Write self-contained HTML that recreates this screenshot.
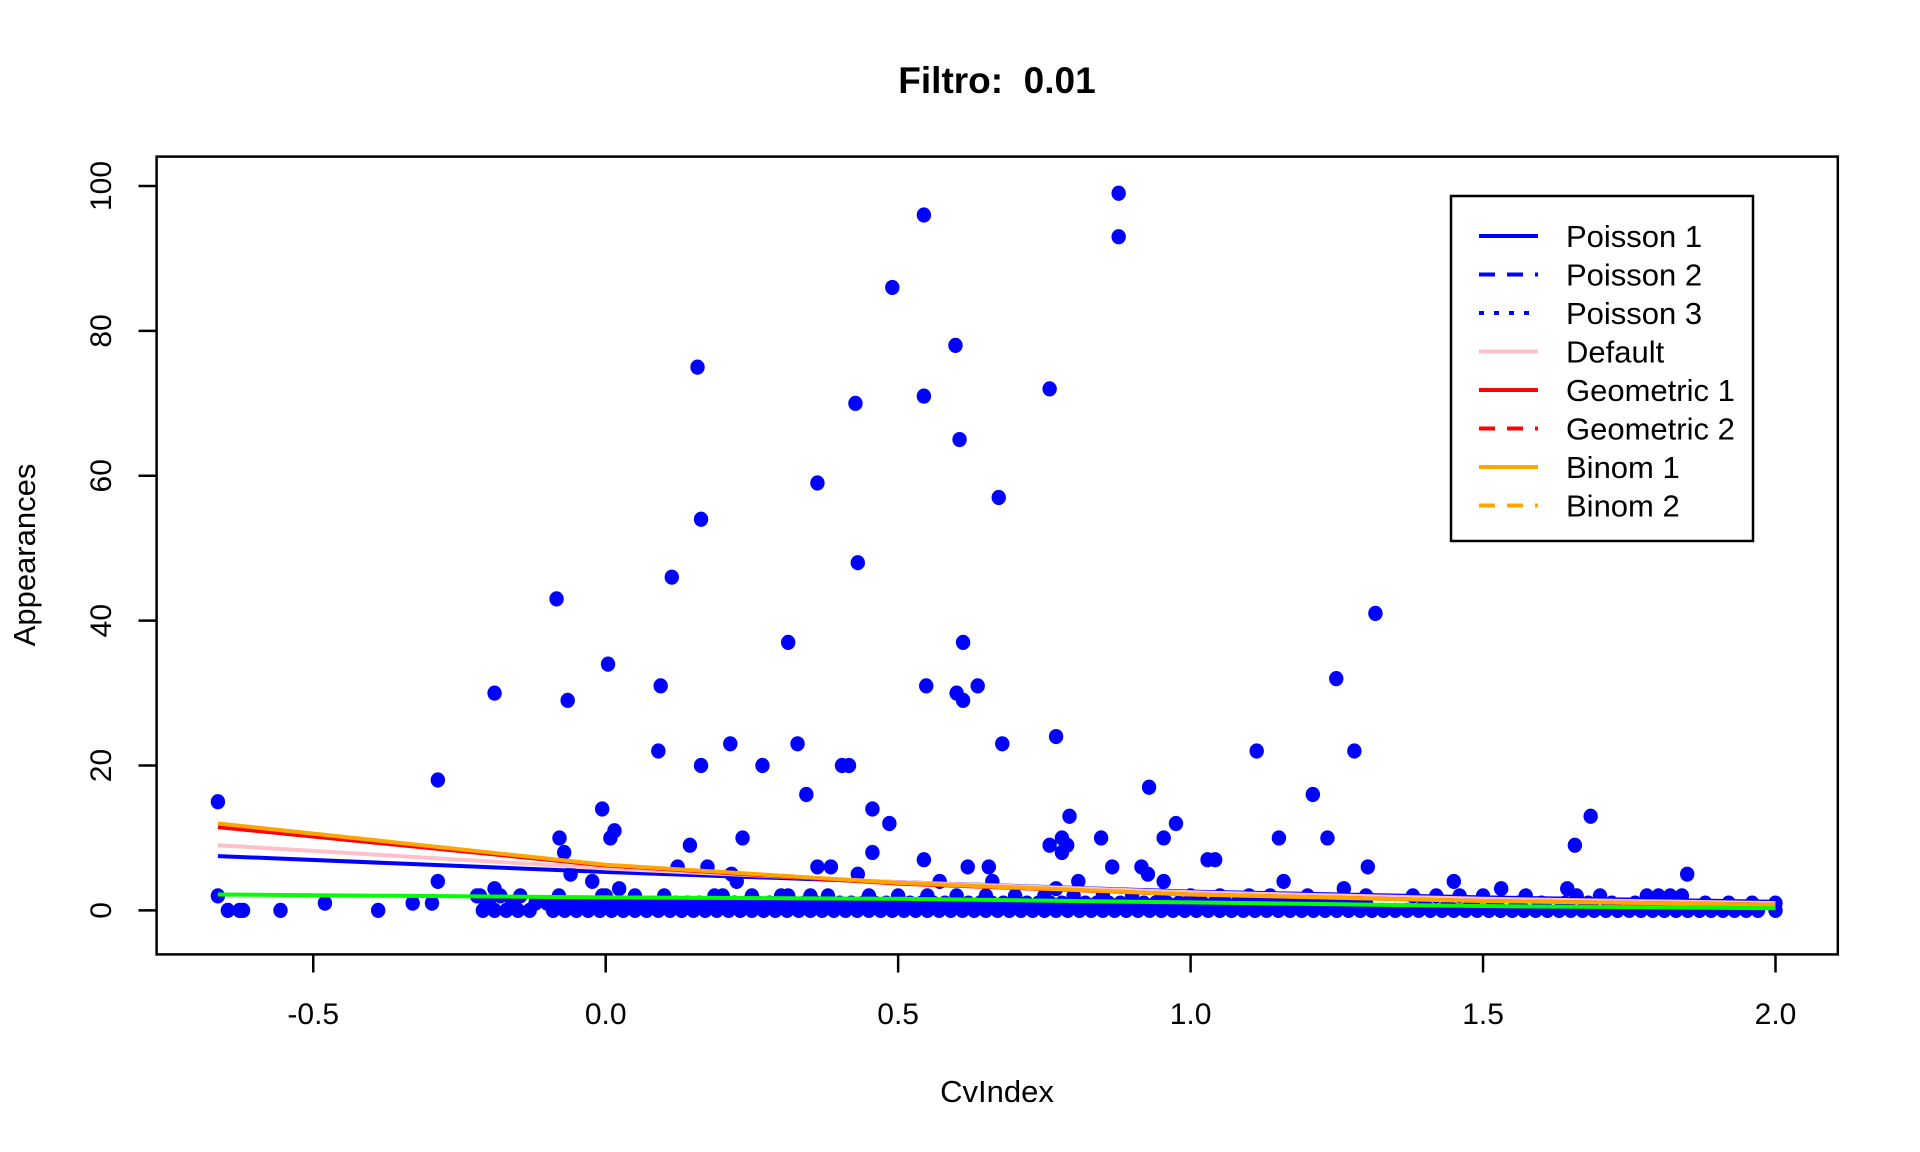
<!DOCTYPE html>
<html><head><meta charset="utf-8"><style>
html,body{margin:0;padding:0;background:#fff;}
svg{display:block;font-family:"Liberation Sans",Arial,sans-serif;}
</style></head><body>
<svg id="chart" width="1920" height="1152" viewBox="0 0 1920 1152">
<rect width="1920" height="1152" fill="#fff"/>
<text x="997" y="93" text-anchor="middle" font-size="37" font-weight="bold" xml:space="preserve">Filtro:  0.01</text>
<text x="997" y="1102" text-anchor="middle" font-size="31">CvIndex</text>
<text transform="translate(35,555) rotate(-90)" text-anchor="middle" font-size="31">Appearances</text>
<g id="points"></g>
<g id="lines"></g>
<rect x="156.6" y="156.6" width="1681.2" height="797.8" fill="none" stroke="#000" stroke-width="2.5"/>
<g id="axes"></g>
<g>
<rect x="1451" y="196" width="302" height="345" fill="#fff" stroke="#000" stroke-width="2.5"/>
<g id="legend"></g>
</g>
</svg>
<script>
const xTicks=[-0.5,0.0,0.5,1.0,1.5,2.0];
const xTickLabels=["-0.5","0.0","0.5","1.0","1.5","2.0"];
const yTicks=[0,20,40,60,80,100];
const yTickLabels=["0","20","40","60","80","100"];
const outX=[-0.663,-0.663,-0.646,-0.626,-0.62,-0.556,-0.48,-0.389,-0.33,-0.297,-0.287,-0.287,-0.215,-0.19,-0.19,-0.146,-0.084,-0.079,-0.071,-0.065,-0.06,-0.023,-0.006,-0.006,0.004,0.008,0.015,0.023,0.09,0.094,0.113,0.123,0.144,0.157,0.163,0.163,0.174,0.186,0.213,0.215,0.224,0.234,0.268,0.312,0.312,0.328,0.343,0.362,0.362,0.385,0.404,0.416,0.427,0.431,0.431,0.456,0.456,0.485,0.49,0.544,0.544,0.544,0.548,0.571,0.598,0.6,0.605,0.611,0.611,0.619,0.636,0.655,0.661,0.672,0.678,0.759,0.759,0.77,0.77,0.78,0.78,0.789,0.793,0.808,0.847,0.866,0.877,0.877,0.916,0.927,0.929,0.954,0.954,0.975,1.029,1.042,1.113,1.136,1.151,1.159,1.209,1.234,1.249,1.262,1.28,1.303,1.316,1.45,1.531,1.573,1.644,1.657,1.684,1.849];
const outY=[15,2,0,0,0,0,1,0,1,1,18,4,2,30,3,2,43,10,8,29,5,4,14,2,34,10,11,3,22,31,46,6,9,75,54,20,6,2,23,5,4,10,20,37,2,23,16,59,6,6,20,20,70,48,5,14,8,12,86,96,71,7,31,4,78,30,65,29,37,6,31,6,4,57,23,72,9,24,3,10,8,9,13,4,10,6,99,93,6,5,17,10,4,12,7,7,22,2,10,4,16,10,32,3,22,6,41,4,3,2,3,9,13,5];
const row0X=[-0.21,-0.19,-0.17,-0.15,-0.13,-0.09,-0.07,-0.05,-0.03,-0.01,0.01,0.03,0.05,0.07,0.09,0.11,0.13,0.15,0.17,0.19,0.21,0.23,0.25,0.27,0.29,0.31,0.33,0.35,0.37,0.39,0.41,0.43,0.45,0.47,0.49,0.51,0.53,0.55,0.57,0.59,0.61,0.63,0.65,0.67,0.69,0.71,0.73,0.75,0.77,0.79,0.81,0.83,0.85,0.87,0.89,0.91,0.93,0.95,0.97,0.99,1.01,1.03,1.05,1.07,1.09,1.11,1.13,1.15,1.17,1.19,1.21,1.23,1.25,1.27,1.29,1.31,1.33,1.35,1.37,1.39,1.41,1.43,1.45,1.47,1.49,1.51,1.53,1.55,1.57,1.59,1.61,1.63,1.65,1.67,1.69,1.71,1.73,1.75,1.77,1.79,1.81,1.83,1.85,1.87,1.89,1.91,1.93,1.95,1.97,2.0];
const row1X=[-0.2,-0.16,-0.12,-0.1,-0.08,-0.06,-0.04,-0.02,0.0,0.02,0.04,0.06,0.08,0.1,0.12,0.14,0.16,0.18,0.2,0.22,0.24,0.26,0.28,0.3,0.32,0.34,0.36,0.38,0.4,0.42,0.44,0.46,0.48,0.5,0.52,0.54,0.56,0.58,0.6,0.62,0.64,0.66,0.68,0.7,0.72,0.74,0.76,0.78,0.8,0.82,0.84,0.86,0.88,0.9,0.92,0.94,0.96,0.98,1.0,1.02,1.04,1.06,1.08,1.1,1.12,1.14,1.16,1.18,1.2,1.22,1.24,1.26,1.28,1.3,1.4,1.44,1.48,1.52,1.56,1.6,1.64,1.68,1.72,1.76,1.8,1.84,1.88,1.92,1.96,2.0];
const row2X=[-0.22,-0.18,-0.08,0.0,0.05,0.1,0.2,0.25,0.3,0.35,0.38,0.45,0.5,0.55,0.6,0.65,0.7,0.75,0.8,0.85,0.9,0.95,1.0,1.05,1.1,1.2,1.3,1.38,1.42,1.46,1.5,1.66,1.7,1.78,1.8,1.82,1.84];
const lineX=[-0.663,0,0.5,1.0,1.5,2.0];
const poisson1=[7.5,5.3,3.9,2.6,1.8,1.2];
const defaultFit=[9,5.8,3.9,2.5,1.6,1.0];
const geometric1=[11.5,6.2,3.7,2.2,1.3,0.8];
const binom1=[12,6.3,3.8,2.2,1.3,0.8];
const greenFit=[2.2,1.8,1.6,1.1,0.6,0.3];
const legendLabels=["Poisson 1","Poisson 2","Poisson 3","Default","Geometric 1","Geometric 2","Binom 1","Binom 2"];
const legendColors=["#0000ff","#0000ff","#0000ff","#ffc0cb","#ff0000","#ff0000","#ffa500","#ffa500"];
const legendDash=["","16,12","5,10","","","16,12","","16,12"];

const NS="http://www.w3.org/2000/svg";
function sx(v){return 605.7+v*584.9;}
function sy(v){return 910.4-v*7.244;}
function mk(t,a){const e=document.createElementNS(NS,t);for(const k in a)e.setAttribute(k,a[k]);return e;}
const axes=document.getElementById('axes');
xTicks.forEach((v,i)=>{
  const l=mk('line',{x1:sx(v),x2:sx(v),y1:954.4,y2:972.5,stroke:'#000','stroke-width':2.5});
  
  
  axes.appendChild(l);
  const t=mk('text',{x:sx(v),y:1024,'text-anchor':'middle','font-size':30});
  t.textContent=xTickLabels[i];
  
  
  axes.appendChild(t);
});
yTicks.forEach((v,i)=>{
  const l=mk('line',{x1:138.5,x2:156.6,y1:sy(v),y2:sy(v),stroke:'#000','stroke-width':2.5});
  
  
  axes.appendChild(l);
  const t=mk('text',{transform:`translate(111,${sy(v)}) rotate(-90)`,'text-anchor':'middle','font-size':30});
  t.textContent=yTickLabels[i];
  
  
  axes.appendChild(t);
});
const pts=document.getElementById('points');
function dot(x,y){
  const c=mk('ellipse',{cx:sx(x),cy:sy(y),rx:7.2,ry:7.6,fill:'#0000ff'});
  
  
  pts.appendChild(c);
}
row0X.forEach(x=>dot(x,0));
row1X.forEach(x=>dot(x,1));
row2X.forEach(x=>dot(x,2));
outX.forEach((x,i)=>dot(x,outY[i]));
const lines=document.getElementById('lines');
function line(vals,color,name){
  const p=mk('polyline',{points:lineX.map((x,i)=>sx(x)+','+sy(vals[i])).join(' '),fill:'none',stroke:color,'stroke-width':4});
  
  
  lines.appendChild(p);
}
line(poisson1,'#0000ff','poisson-1-line');
line(defaultFit,'#ffc0cb','default-line');
line(geometric1,'#ff0000','geometric-1-line');
line(binom1,'#ffa500','binom-1-line');
line(greenFit,'#00ff00','green-line');
const lg=document.getElementById('legend');
legendLabels.forEach((lab,i)=>{
  const y=236+i*38.5;
  const l=mk('line',{x1:1479,x2:1538,y1:y,y2:y,stroke:legendColors[i],'stroke-width':4});
  if(legendDash[i])l.setAttribute('stroke-dasharray',legendDash[i]);
  
  
  lg.appendChild(l);
  const t=mk('text',{x:1566,y:y+11,'font-size':31});
  t.textContent=lab;
  
  
  lg.appendChild(t);
});
</script>
</body></html>
